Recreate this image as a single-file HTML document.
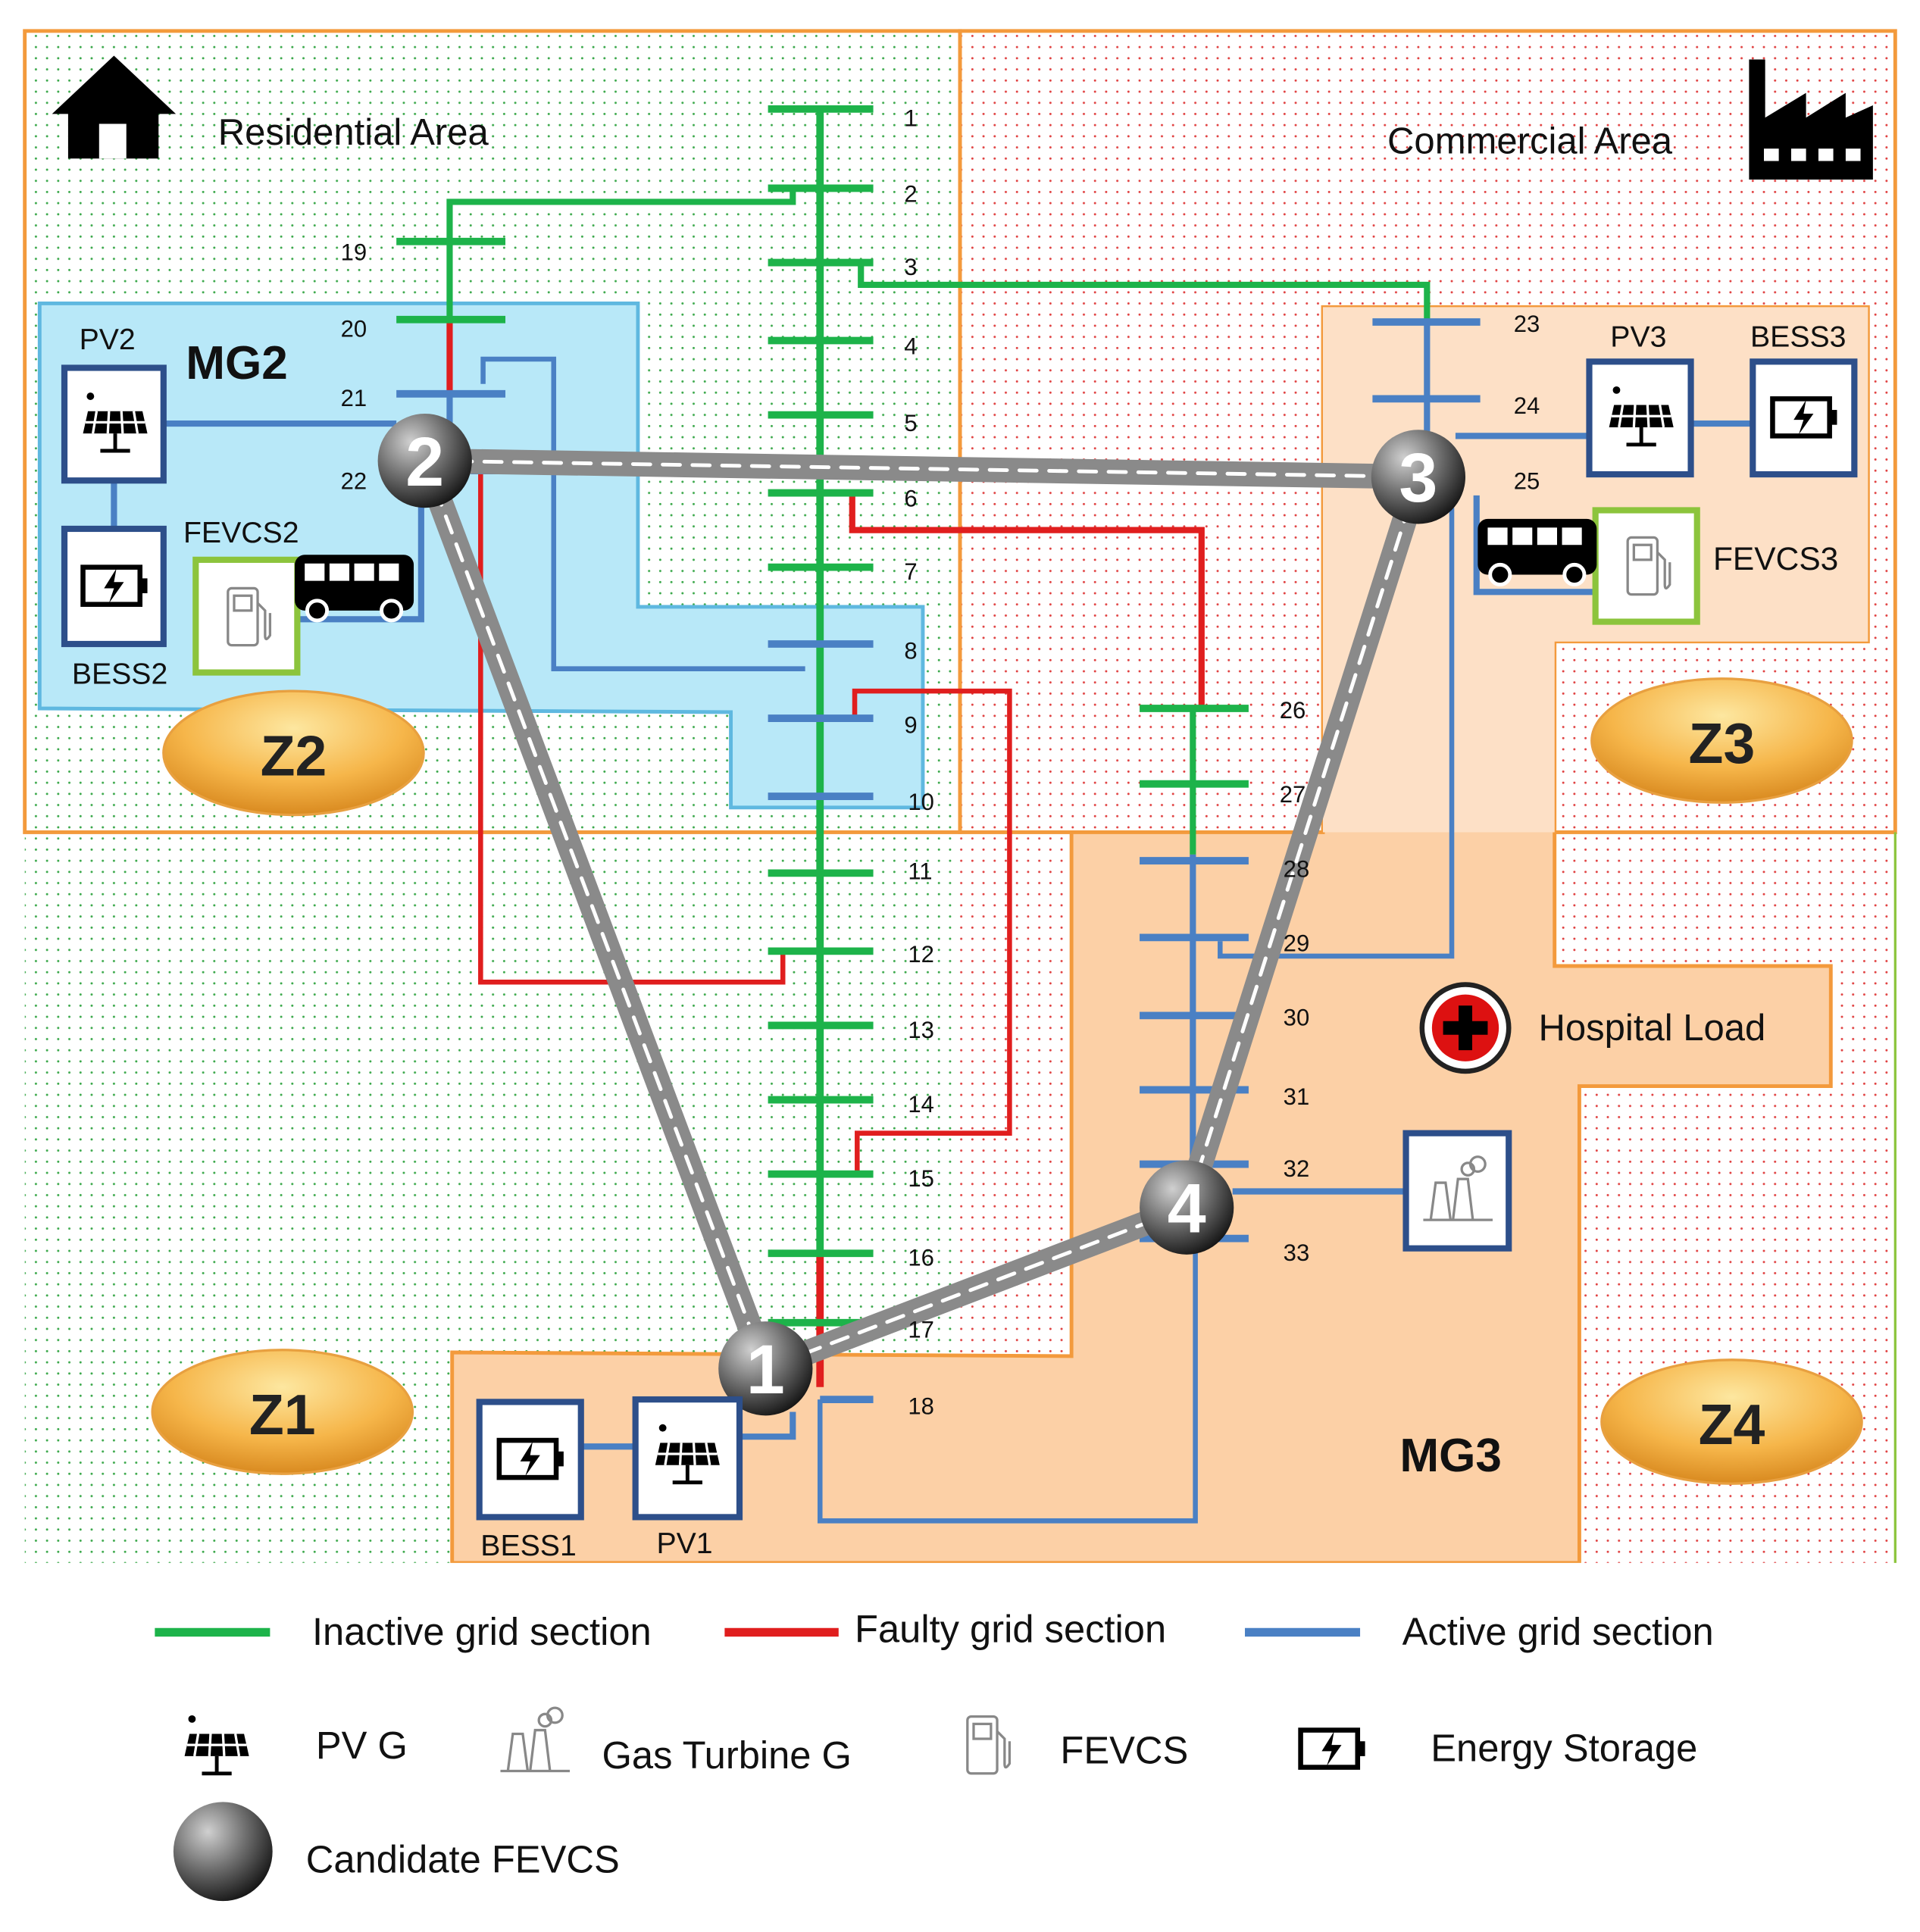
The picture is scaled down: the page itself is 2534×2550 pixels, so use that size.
<!DOCTYPE html>
<html><head><meta charset="utf-8"><style>html,body{margin:0;padding:0;background:#fff}svg{display:block}text{font-family:"Liberation Sans",sans-serif}</style></head><body>
<svg width="2534" height="2550" viewBox="0 0 1550 1560" preserveAspectRatio="none" xmlns="http://www.w3.org/2000/svg">
<defs>
<pattern id="gd" width="9" height="9" patternUnits="userSpaceOnUse"><rect width="9" height="9" fill="#fff"/><circle cx="2" cy="2" r="0.9" fill="#3aa84a"/></pattern>
<pattern id="rd" width="9" height="9" patternUnits="userSpaceOnUse"><rect width="9" height="9" fill="#fff"/><circle cx="2" cy="2" r="0.9" fill="#e04040"/></pattern>
<radialGradient id="ng" cx="0.35" cy="0.3" r="0.75"><stop offset="0" stop-color="#d0d0d0"/><stop offset="0.5" stop-color="#707070"/><stop offset="1" stop-color="#151515"/></radialGradient>
<radialGradient id="og" cx="0.5" cy="0.3" r="0.7"><stop offset="0" stop-color="#fde7a0"/><stop offset="0.6" stop-color="#f6b64a"/><stop offset="1" stop-color="#d98a20"/></radialGradient>
<g id="pv"><circle cx="-20" cy="-22" r="3" fill="#000"/><path d="M-22,-10 L22,-10 L26,8 L-26,8 Z" fill="#000"/><path d="M-15,-10 L-18,8 M-5,-10 L-6,8 M5,-10 L6,8 M15,-10 L18,8 M-24,-1 L24,-1" stroke="#fff" stroke-width="2"/><path d="M0,8 V22 M-12,22 H12" stroke="#000" stroke-width="3"/></g>
<g id="bat"><rect x="-25" y="-15" width="46" height="30" fill="none" stroke="#000" stroke-width="4"/><rect x="21" y="-6" width="6" height="12" fill="#000"/><path d="M2,-14 L-8,2 L0,2 L-4,14 L8,-3 L0,-3 Z" fill="#000"/></g>
<g id="fuel"><rect x="-16" y="-22" width="24" height="46" rx="3" fill="none" stroke="#888" stroke-width="2"/><rect x="-11" y="-16" width="14" height="12" fill="none" stroke="#888" stroke-width="2"/><path d="M8,-10 L14,-4 V16 Q14,22 18,16 V-2" fill="none" stroke="#888" stroke-width="2"/></g>
<g id="busv"><rect x="-48" y="-25" width="96" height="45" rx="8" fill="#000"/><rect x="-40" y="-18" width="16" height="14" fill="#fff"/><rect x="-20" y="-18" width="16" height="14" fill="#fff"/><rect x="0" y="-18" width="16" height="14" fill="#fff"/><rect x="20" y="-18" width="16" height="14" fill="#fff"/><circle cx="-30" cy="20" r="8" fill="#000" stroke="#fff" stroke-width="3"/><circle cx="30" cy="20" r="8" fill="#000" stroke="#fff" stroke-width="3"/></g>
<g id="gt" fill="none" stroke="#888" stroke-width="2"><path d="M-22,25 L-18,-5 L-10,-5 L-6,25 M-4,25 L0,-8 L8,-8 L12,25 M-28,25 H28"/><circle cx="8" cy="-16" r="5"/><circle cx="16" cy="-20" r="6"/></g>
</defs>
<rect width="1550" height="1560" fill="#fff"/>
<rect x="20" y="25" width="755" height="647" fill="url(#gd)"/>
<rect x="775" y="25" width="755" height="647" fill="url(#rd)"/>
<rect x="20" y="672" width="755" height="590" fill="url(#gd)"/>
<rect x="775" y="672" width="755" height="590" fill="url(#rd)"/>
<rect x="20" y="25" width="755" height="647" fill="none" stroke="#f39a3c" stroke-width="3"/>
<rect x="775" y="25" width="755" height="647" fill="none" stroke="#f39a3c" stroke-width="3"/>
<line x1="1530" y1="672" x2="1530" y2="1262" stroke="#8cc43c" stroke-width="2"/>
<polygon points="32,245 515,245 515,490 745,490 745,652 590,652 590,575 32,572" fill="#b8e8f8" stroke="#5fb8e0" stroke-width="3"/>
<polygon points="1068,248 1508,248 1508,518 1255,518 1255,780 1478,780 1478,877 1275,877 1275,1262 365,1262 365,1092 865,1095 865,672 1068,672" fill="#fcd0a6" stroke="#f39a3c" stroke-width="3"/>
<polygon points="1068,248 1508,248 1508,518 1255,518 1255,672 1068,672" fill="#fde0c6"/>
<rect x="22" y="1262" width="1503" height="278" fill="#fff"/>
<!-- lines -->
<g fill="none" stroke-width="5">
<path d="M640,152 V163 H363 V258" stroke="#1db34a"/>
<path d="M363,258 V318" stroke="#e01e1e"/>
<path d="M363,318 V380" stroke="#4a80c4"/>
<path d="M695,212 V230 H1152 V260" stroke="#1db34a"/>
<path d="M1152,260 V400" stroke="#4a80c4"/>
<path d="M662,88 V1012" stroke="#1db34a" stroke-width="6"/>
<path d="M662,1012 V1120" stroke="#e01e1e" stroke-width="6"/>
<path d="M688,398 V428 H970 V572" stroke="#e01e1e"/>
<path d="M963,572 V690" stroke="#1db34a"/>
<path d="M963,690 V1000" stroke="#4a80c4"/>
<path d="M690,578 V558 H815 V915 H692 V948" stroke="#e01e1e" stroke-width="4"/>
<path d="M388,380 V793 H632 V768" stroke="#e01e1e" stroke-width="4"/>
<path d="M390,310 V290 H447 V540 H650" stroke="#4a80c4" stroke-width="4"/>
<path d="M985,760 V772 H1172 V410" stroke="#4a80c4" stroke-width="4"/>
<path d="M662,1130 V1228 H965 V1000" stroke="#4a80c4" stroke-width="4"/>
<path d="M132,342 H320" stroke="#4a80c4"/>
<path d="M92,388 V427" stroke="#4a80c4"/>
<path d="M240,500 H340 V400" stroke="#4a80c4"/>
<path d="M1175,352 H1283 M1365,342 H1415 M1192,400 V478 H1288" stroke="#4a80c4"/>
<path d="M469,1168 H513 M597,1160 H640 V1140" stroke="#4a80c4"/>
<path d="M995,962 H1135" stroke="#4a80c4"/>
</g>
<g stroke-width="6">
<g stroke="#1db34a"><path d="M620,88H705M620,152H705M620,212H705M620,275H705M620,335H705M620,398H705M620,458H705M620,705H705M620,768H705M620,828H705M620,888H705M620,948H705M620,1012H705M620,1068H705M320,195H408M320,258H408M920,572H1008M920,633H1008"/></g>
<g stroke="#4a80c4"><path d="M620,520H705M620,580H705M620,643H705M662,1130H705M320,318H408M1108,260H1195M1108,322H1195M920,695H1008M920,757H1008M920,820H1008M920,880H1008M920,940H1008M920,1000H1008M380,380H408"/></g>
</g>
<!-- roads -->
<g fill="none" stroke-linecap="round">
<path d="M343,372 L1145,385 M343,372 L618,1105 L958,975 L1145,385" stroke="#8a8a8a" stroke-width="20"/>
<path d="M343,372 L1145,385 M343,372 L618,1105 L958,975 L1145,385" stroke="#fff" stroke-width="3" stroke-dasharray="14,10"/>
</g>
<g font-size="30" font-weight="bold" fill="#fff" text-anchor="middle" font-size="48">
<circle cx="343" cy="372" r="38" fill="url(#ng)"/><text x="343" y="392" font-size="56">2</text>
<circle cx="1145" cy="385" r="38" fill="url(#ng)"/><text x="1145" y="405" font-size="56">3</text>
<circle cx="618" cy="1105" r="38" fill="url(#ng)"/><text x="618" y="1125" font-size="56">1</text>
<circle cx="958" cy="975" r="38" fill="url(#ng)"/><text x="958" y="995" font-size="56">4</text>
</g>
<!-- bus labels -->
<g font-size="19" fill="#111">
<text x="730" y="102">1</text><text x="730" y="163">2</text><text x="730" y="222">3</text><text x="730" y="286">4</text><text x="730" y="348">5</text><text x="730" y="409">6</text><text x="730" y="468">7</text><text x="730" y="532">8</text><text x="730" y="592">9</text><text x="733" y="654">10</text><text x="733" y="710">11</text><text x="733" y="777">12</text><text x="733" y="838">13</text><text x="733" y="898">14</text><text x="733" y="958">15</text><text x="733" y="1022">16</text><text x="733" y="1080">17</text><text x="733" y="1142">18</text>
<text x="275" y="210">19</text><text x="275" y="272">20</text><text x="275" y="328">21</text><text x="275" y="395">22</text>
<text x="1222" y="268">23</text><text x="1222" y="334">24</text><text x="1222" y="395">25</text>
<text x="1033" y="580">26</text><text x="1033" y="648">27</text><text x="1036" y="708">28</text><text x="1036" y="768">29</text><text x="1036" y="828">30</text><text x="1036" y="892">31</text><text x="1036" y="950">32</text><text x="1036" y="1018">33</text>
</g>
<!-- icons -->
<g fill="#fff" stroke="#2d4f8a" stroke-width="5">
<rect x="52" y="297" width="80" height="91"/><rect x="52" y="427" width="80" height="93"/>
<rect x="1283" y="292" width="82" height="91"/><rect x="1415" y="292" width="82" height="91"/>
<rect x="387" y="1132" width="82" height="93"/><rect x="513" y="1130" width="84" height="95"/>
<rect x="1135" y="915" width="83" height="93"/>
</g>
<g fill="#fff" stroke="#8cc43c" stroke-width="5"><rect x="158" y="452" width="82" height="91"/><rect x="1288" y="412" width="82" height="90"/></g>
<use href="#pv" x="93" y="342"/><use href="#pv" x="1325" y="337"/><use href="#pv" x="555" y="1175"/>
<use href="#bat" x="92" y="473"/><use href="#bat" x="1456" y="337"/><use href="#bat" x="428" y="1178"/>
<use href="#fuel" x="200" y="497"/><use href="#fuel" x="1330" y="456"/>
<use href="#busv" x="286" y="473"/><use href="#busv" x="1241" y="444"/>
<use href="#gt" x="1177" y="960"/>
<circle cx="1183" cy="830" r="35" fill="#fff" stroke="#222" stroke-width="4"/>
<circle cx="1183" cy="830" r="27" fill="#d11"/>
<path d="M1183,812V848M1165,830H1201" stroke="#000" stroke-width="11"/>
<!-- house & factory -->
<path d="M92,45 L42,92 L55,92 L55,128 L128,128 L128,92 L142,92 Z" fill="#000"/>
<rect x="80" y="100" width="22" height="28" fill="#fff"/>
<path d="M1412,145 V48 H1425 V95 L1458,75 V95 L1490,75 V95 L1512,85 V145 Z" fill="#000"/>
<rect x="1424" y="120" width="12" height="10" fill="#fff"/><rect x="1446" y="120" width="12" height="10" fill="#fff"/><rect x="1468" y="120" width="12" height="10" fill="#fff"/><rect x="1490" y="120" width="12" height="10" fill="#fff"/>
<!-- ovals -->
<g fill="url(#og)" stroke="#e8a040" stroke-width="2">
<ellipse cx="237" cy="608" rx="105" ry="50"/><ellipse cx="1390" cy="598" rx="105" ry="50"/><ellipse cx="228" cy="1140" rx="105" ry="50"/><ellipse cx="1398" cy="1148" rx="105" ry="50"/>
</g>
<g font-size="46" font-weight="bold" text-anchor="middle" fill="#222">
<text x="237" y="626">Z2</text><text x="1390" y="616">Z3</text><text x="228" y="1158">Z1</text><text x="1398" y="1166">Z4</text>
</g>
<g fill="#111">
<text x="176" y="117" font-size="30">Residential Area</text>
<text x="1120" y="124" font-size="30">Commercial Area</text>
<text x="150" y="306" font-size="38" font-weight="bold">MG2</text>
<text x="1130" y="1188" font-size="38" font-weight="bold">MG3</text>
<text x="64" y="282" font-size="24">PV2</text>
<text x="58" y="552" font-size="24">BESS2</text>
<text x="148" y="438" font-size="24">FEVCS2</text>
<text x="1300" y="280" font-size="24">PV3</text>
<text x="1413" y="280" font-size="24">BESS3</text>
<text x="1383" y="460" font-size="26">FEVCS3</text>
<text x="388" y="1256" font-size="24">BESS1</text>
<text x="530" y="1254" font-size="24">PV1</text>
<text x="1242" y="840" font-size="30">Hospital Load</text>
</g>
<!-- legend -->
<g stroke-width="7"><path d="M125,1318H218" stroke="#1db34a"/><path d="M585,1318H677" stroke="#e01e1e"/><path d="M1005,1318H1098" stroke="#4a80c4"/></g>
<g font-size="31" fill="#111">
<text x="252" y="1328">Inactive grid section</text>
<text x="690" y="1326">Faulty grid section</text>
<text x="1132" y="1328">Active grid section</text>
<text x="255" y="1420">PV G</text>
<text x="486" y="1428">Gas Turbine G</text>
<text x="856" y="1424">FEVCS</text>
<text x="1155" y="1422">Energy  Storage</text>
<text x="247" y="1512">Candidate FEVCS</text>
</g>
<use href="#pv" x="175" y="1410"/><use href="#gt" x="432" y="1405"/><use href="#fuel" x="797" y="1408"/><use href="#bat" x="1075" y="1412"/>
<circle cx="180" cy="1495" r="40" fill="url(#ng)"/>
</svg>
</body></html>
